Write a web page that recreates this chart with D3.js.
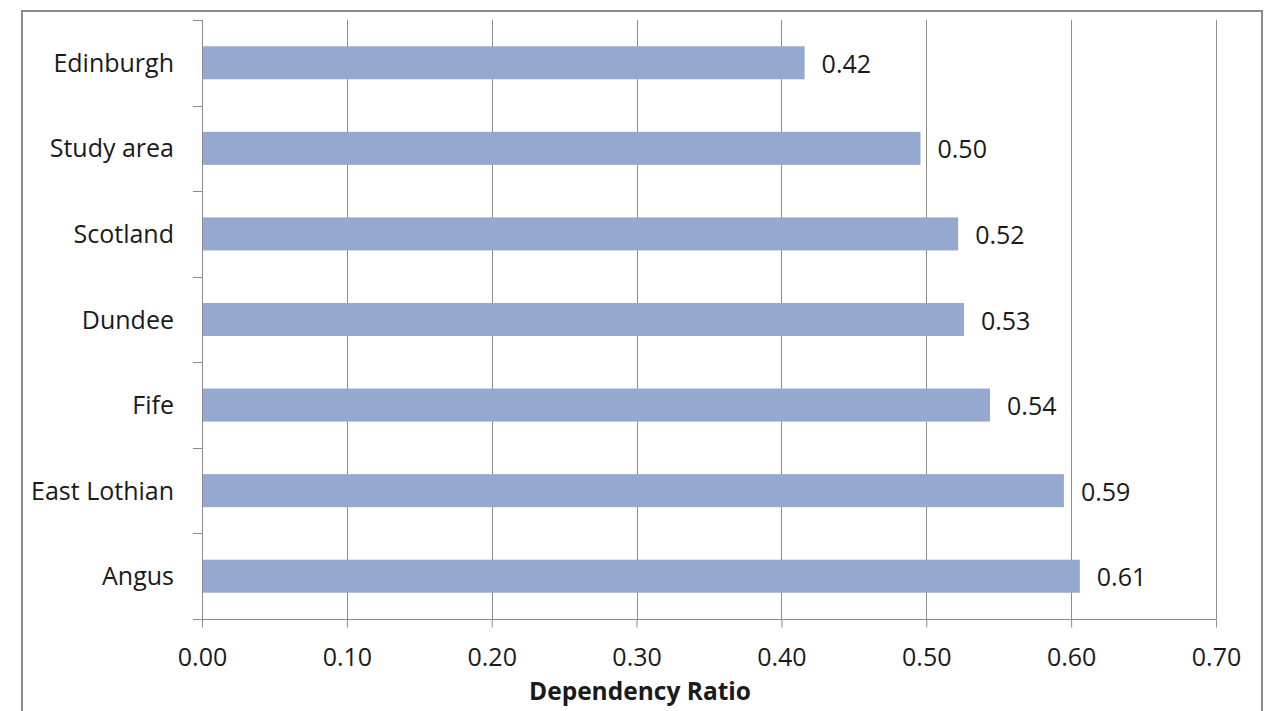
<!DOCTYPE html>
<html>
<head>
<meta charset="utf-8">
<script src="https://cdn.jsdelivr.net/npm/d3@7"></script>
<style>
  html, body { margin: 0; padding: 0; background: #ffffff; }
  svg { display: block; }
  text { font-family: "Open Sans", "Liberation Sans", sans-serif; fill: #1a1a1a; }
</style>
</head>
<body>
<svg id="chart" width="1277" height="711"></svg>
<script>
// Dependency ratio by area
const categories = ["Edinburgh", "Study area", "Scotland", "Dundee", "Fife", "East Lothian", "Angus"];
const ratios = [0.416, 0.496, 0.522, 0.526, 0.544, 0.595, 0.606];
const xTicks = [0, 0.1, 0.2, 0.3, 0.4, 0.5, 0.6, 0.7];
const xTitle = "Dependency Ratio";

const svg = d3.select("#chart");
const plot = { left: 202, right: 1216, top: 20, bottom: 619 };
const gridColor = "#8c8c8c";
const barColor = "#94a8d0";
const fontSize = 25;

// outer chart frame (bottom edge runs past the image)
svg.append("rect")
  .attr("x", 22).attr("y", 11)
  .attr("width", 1240).attr("height", 720)
  .attr("fill", "#ffffff")
  .attr("stroke", "#8a8a8a")
  .attr("stroke-width", 2);

const x = d3.scaleLinear().domain([0, 0.7]).range([plot.left, plot.right]);
const y = d3.scaleBand().domain(categories).range([plot.top, plot.bottom])
  .paddingInner(0.614).paddingOuter(0.307);

// vertical gridlines
svg.append("g")
  .selectAll("line")
  .data(xTicks.slice(1))
  .join("line")
  .attr("x1", d => Math.round(x(d)) + 0.5)
  .attr("x2", d => Math.round(x(d)) + 0.5)
  .attr("y1", plot.top)
  .attr("y2", plot.bottom)
  .attr("stroke", gridColor)
  .attr("stroke-width", 1);

// bars
svg.append("g")
  .selectAll("rect")
  .data(categories)
  .join("rect")
  .attr("x", x(0))
  .attr("y", d => y(d))
  .attr("width", (d, i) => x(ratios[i]) - x(0))
  .attr("height", y.bandwidth())
  .attr("fill", barColor);

// value labels
svg.append("g")
  .selectAll("text")
  .data(categories)
  .join("text")
  .attr("x", (d, i) => x(ratios[i]) + 17)
  .attr("y", d => y(d) + y.bandwidth() / 2 + 10)
  .attr("font-size", fontSize)
  .text((d, i) => d3.format(".2f")(ratios[i]));

// x axis
const xAxis = svg.append("g")
  .attr("transform", `translate(0,${plot.bottom + 0.5})`)
  .call(d3.axisBottom(x).tickValues(xTicks).tickFormat(d3.format(".2f")).tickSize(8).tickSizeOuter(0));
xAxis.select(".domain").attr("stroke", gridColor).attr("d", `M${plot.left - 9},0H${plot.right}`);
xAxis.selectAll(".tick line").attr("stroke", gridColor);
xAxis.selectAll(".tick text")
  .attr("font-size", fontSize)
  .attr("font-family", "'Open Sans', sans-serif")
  .attr("fill", "#1a1a1a")
  .attr("y", 29)
  .attr("dy", "0.71em");

// y axis with boundary ticks between categories
const yBounds = d3.range(categories.length + 1).map(i => plot.top + i * y.step());
const yAxis = svg.append("g");
yAxis.append("line")
  .attr("x1", plot.left + 0.5).attr("x2", plot.left + 0.5)
  .attr("y1", plot.top).attr("y2", plot.bottom)
  .attr("stroke", gridColor);
yAxis.selectAll("line.tk")
  .data(yBounds)
  .join("line")
  .attr("class", "tk")
  .attr("x1", plot.left - 9).attr("x2", plot.left)
  .attr("y1", d => Math.round(d) + 0.5).attr("y2", d => Math.round(d) + 0.5)
  .attr("stroke", gridColor);
yAxis.selectAll("text")
  .data(categories)
  .join("text")
  .attr("x", 174)
  .attr("y", d => y(d) + y.bandwidth() / 2 + 9)
  .attr("text-anchor", "end")
  .attr("font-size", fontSize)
  .text(d => d);

// axis title
svg.append("text")
  .attr("x", 640)
  .attr("y", 700)
  .attr("text-anchor", "middle")
  .attr("font-size", 24.5)
  .attr("font-weight", "bold")
  .text(xTitle);
</script>
</body>
</html>
